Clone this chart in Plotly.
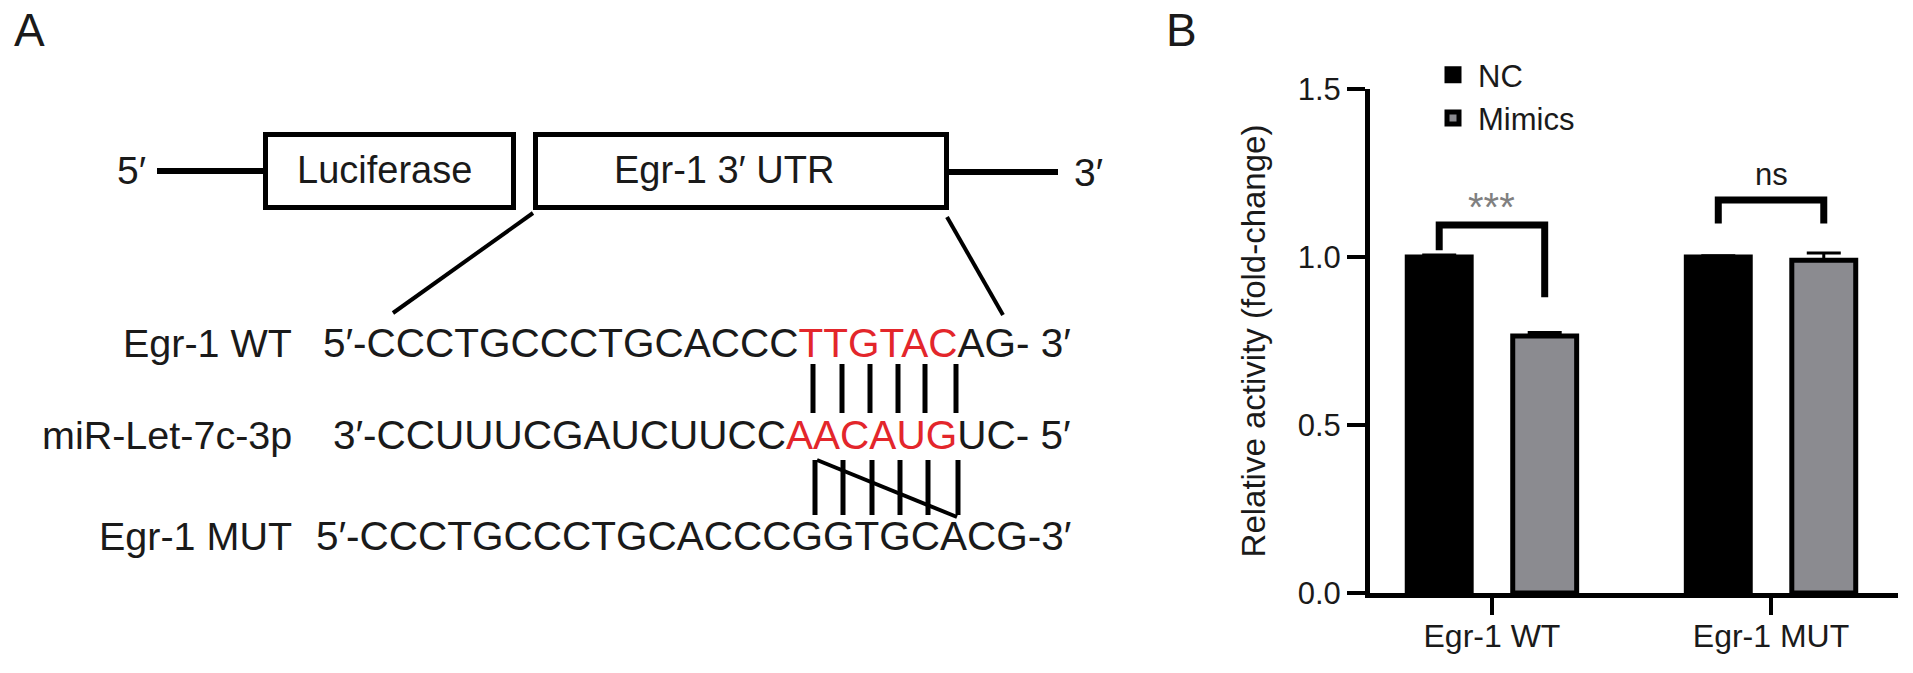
import plotly.graph_objects as go

# ---------------- data ----------------
categories = ["Egr-1 WT", "Egr-1 MUT"]
nc_values = [1.0, 1.0]
nc_errors = [0.006, 0.004]
mimics_values = [0.765, 0.99]
mimics_errors = [0.01, 0.022]
y_ticks = [0.0, 0.5, 1.0, 1.5]
y_ticklabels = ["0.0", "0.5", "1.0", "1.5"]

seq_labels = ["Egr-1 WT", "miR-Let-7c-3p", "Egr-1 MUT"]
seq_parts = [
    ("5′-CCCTGCCCTGCACCC", "TTGTAC", "AG- 3′"),
    ("3′-CCUUUCGAUCUUCC", "AACAUG", "UC- 5′"),
    ("5′-CCCTGCCCTGCACCCGGTGCACG-3′", "", ""),
]

W, H = 1913, 673
FONT = "Liberation Sans, Arial, Helvetica, sans-serif"
INK = "#1a1a1a"
RED = "#e3262b"
GREY = "#8b8b90"


def X(px):
    return px / W


def Y(py):
    return 1 - py / H


fig = go.Figure()

fig.add_trace(go.Bar(
    name="NC", x=categories, y=nc_values,
    marker=dict(color="black", line=dict(color="black", width=5)),
    error_y=dict(type="data", array=nc_errors, arrayminus=[0, 0], symmetric=False,
                 color="black", thickness=3, width=17),
))
fig.add_trace(go.Bar(
    name="Mimics", x=categories, y=mimics_values,
    marker=dict(color=GREY, line=dict(color="black", width=5)),
    error_y=dict(type="data", array=mimics_errors, arrayminus=[0, 0], symmetric=False,
                 color="black", thickness=3, width=17),
))

shapes = []
annotations = []

# ---------- panel B brackets (data coordinates) ----------
off = 0.189
def bracket(xc, y_left, y_top, y_right):
    xl, xr = xc - off, xc + off
    shapes.append(dict(type="path", xref="x", yref="y",
                       path=f"M {xl},{y_left} L {xl},{y_top} L {xr},{y_top} L {xr},{y_right}",
                       line=dict(color="black", width=7)))

bracket(0, 1.02, 1.095, 0.88)
bracket(1, 1.10, 1.17, 1.10)
annotations.append(dict(x=0, y=1.15, xref="x", yref="y", text="***", showarrow=False,
                        font=dict(family=FONT, size=40, color="#808080"),
                        xanchor="center", yanchor="middle"))
annotations.append(dict(x=1, y=1.247, xref="x", yref="y", text="ns", showarrow=False,
                        font=dict(family=FONT, size=31, color=INK),
                        xanchor="center", yanchor="middle"))

# ---------- panel A diagram (paper coordinates) ----------
def pline(x0, y0, x1, y1, w):
    shapes.append(dict(type="line", xref="paper", yref="paper",
                       x0=X(x0), y0=Y(y0), x1=X(x1), y1=Y(y1),
                       line=dict(color="black", width=w)))

def prect(x0, y0, x1, y1, w):
    shapes.append(dict(type="rect", xref="paper", yref="paper",
                       x0=X(x0), y0=Y(y0), x1=X(x1), y1=Y(y1),
                       line=dict(color="black", width=w), fillcolor="rgba(0,0,0,0)"))

pline(157, 171, 263, 171, 6)
prect(265.5, 134.5, 513.5, 207.5, 5)
prect(535.5, 134.5, 946.5, 207.5, 5)
pline(946, 172, 1058, 172, 6)
pline(533, 213, 393, 313, 4)
pline(947, 217, 1003, 315, 4)

upper_x = [813, 842, 870, 898, 925, 956]
lower_x = [815, 843, 872, 900, 928, 958]
for xx in upper_x:
    pline(xx, 364, xx, 413, 5)
for xx in lower_x:
    pline(xx, 460, xx, 515, 5)
pline(817, 460, 957, 517, 4)

def ptext(x, y, text, size, xanchor="left", color=INK):
    annotations.append(dict(x=X(x), y=Y(y), xref="paper", yref="paper", text=text,
                            showarrow=False, xanchor=xanchor, yanchor="middle",
                            font=dict(family=FONT, size=size, color=color)))

ptext(12, 30, "A", 46)
ptext(1164, 30, "B", 46)
ptext(148, 170, "5′", 39, "right")
ptext(384, 170, "Luciferase", 38, "center")
ptext(724, 170, "Egr-1 3′ UTR", 38, "center")
ptext(1072, 172, "3′", 39, "left")

row_y = [343, 435, 536]
for lab, parts, yy in zip(seq_labels, seq_parts, row_y):
    ptext(294, yy, lab, 39.5, "right")
    pre, core, post = parts
    txt = pre + (f"<span style='color:{RED}'>{core}</span>" if core else "") + post
    ptext(1073, yy, txt, 40.5, "right")

fig.update_layout(
    template="none",
    width=W, height=H,
    margin=dict(l=0, r=0, t=0, b=0, pad=0),
    paper_bgcolor="white", plot_bgcolor="white",
    barmode="group", bargap=0.244, bargroupgap=0.394,
    font=dict(family=FONT, color=INK),
    shapes=shapes, annotations=annotations,
    showlegend=True,
    legend=dict(x=X(1428), y=Y(48), xanchor="left", yanchor="top",
                font=dict(family=FONT, size=31, color=INK),
                bgcolor="rgba(0,0,0,0)", borderwidth=0, tracegroupgap=0, itemwidth=40),
    xaxis=dict(domain=[X(1370), X(1898)], type="category", range=[-0.437, 1.455],
               automargin=False,
               showline=True, linecolor="black", linewidth=5,
               ticks="outside", ticklen=17, tickwidth=4, tickcolor="black",
               ticklabelstandoff=-6,
               tickfont=dict(family=FONT, size=32, color=INK),
               showgrid=False, zeroline=False),
    yaxis=dict(domain=[Y(593), Y(89)], range=[0, 1.5],
               automargin=False,
               showline=True, linecolor="black", linewidth=5,
               ticks="outside", ticklen=18, tickwidth=4, tickcolor="black",
               tickvals=y_ticks, ticktext=y_ticklabels,
               tickfont=dict(family=FONT, size=31, color=INK),
               showgrid=False, zeroline=False,
               title=dict(text="Relative activity (fold-change)", standoff=24,
                          font=dict(family=FONT, size=33, color=INK))),
)

fig.write_html(
    "out.html",
    config={"displayModeBar": False},
    post_script="document.body.style.margin='0';document.body.style.overflow='hidden';",
)
